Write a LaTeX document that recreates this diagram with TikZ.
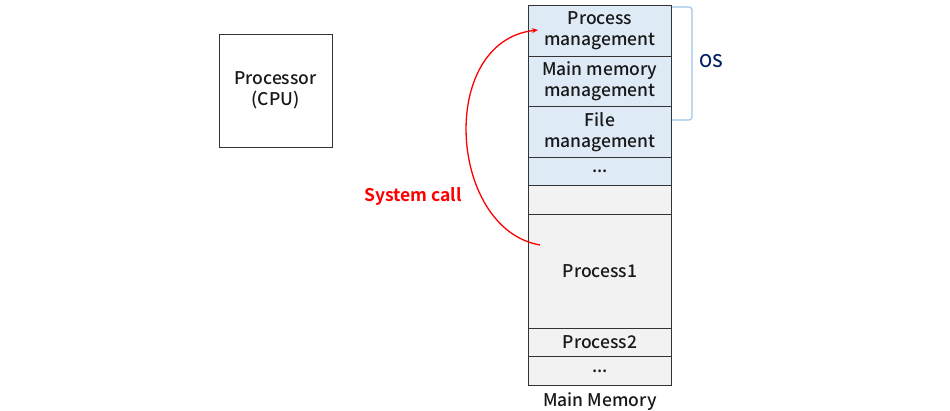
\documentclass[tikz,border=0pt]{standalone}
\usepackage{fontspec}
\setmainfont{Noto Sans CJK KR}[UprightFont=* Medium, BoldFont=* Bold]
\usetikzlibrary{arrows.meta}
\definecolor{osblue}{HTML}{DEEBF7}
\definecolor{procgray}{HTML}{F2F2F2}
\definecolor{bracecol}{HTML}{9DC3E6}
\definecolor{navy}{HTML}{002060}
\tikzset{
  lbl/.style={font=\fontsize{17.5}{21}\selectfont, text=black!90},
  cell/.style={draw=black!80, line width=0.8pt, anchor=north west, minimum width=143pt, inner sep=0pt, align=center, lbl},
  oscell/.style={cell, fill=osblue},
  pcell/.style={cell, fill=procgray}
}
\begin{document}
\begin{tikzpicture}[x=1pt,y=1pt]
\useasboundingbox (0,0) rectangle (950,411);
\node[draw=black!80, line width=0.8pt, minimum width=113pt, minimum height=113pt, align=center, lbl] (cpu) at (275.5,320.5) {Processor\\(CPU)};
\node[oscell, minimum height=51pt] (pm) at (528,406) {Process\\management};
\node[oscell, minimum height=50pt] (mm) at (528,355) {Main memory\\management};
\node[oscell, minimum height=51pt] (fm) at (528,305) {File\\management};
\node[oscell, minimum height=28pt] (od) at (528,254) {...};
\node[pcell, minimum height=29pt] (e1) at (528,226) {};
\node[pcell, minimum height=114pt] (p1) at (528,197) {Process1};
\node[pcell, minimum height=28pt] (p2) at (528,83) {Process2};
\node[pcell, minimum height=29pt] (pd) at (528,55) {...};
\node[lbl, anchor=north] (mmlbl) at (pd.south) [yshift=-3pt] {Main Memory};
\coordinate (bt) at (672,404);
\coordinate (bb) at (672,291);
\draw[bracecol, line width=1.2pt, rounded corners=3pt] (bt) -- (692,404) -- (692,291) -- (bb);
\node[lbl, text=navy] (os) at (711,350) {OS};
\coordinate (sc1) at (540,166);
\coordinate (sc2) at (538,381);
\draw[red, line width=1.3pt, -{Stealth[length=6pt,width=5pt]}] (sc1) .. controls (448,182) and (437,370) .. (sc2);
\node[text=red, font=\fontsize{17.5}{21}\selectfont\bfseries] (sclbl) at (413,215) {System call};
\end{tikzpicture}
\end{document}
